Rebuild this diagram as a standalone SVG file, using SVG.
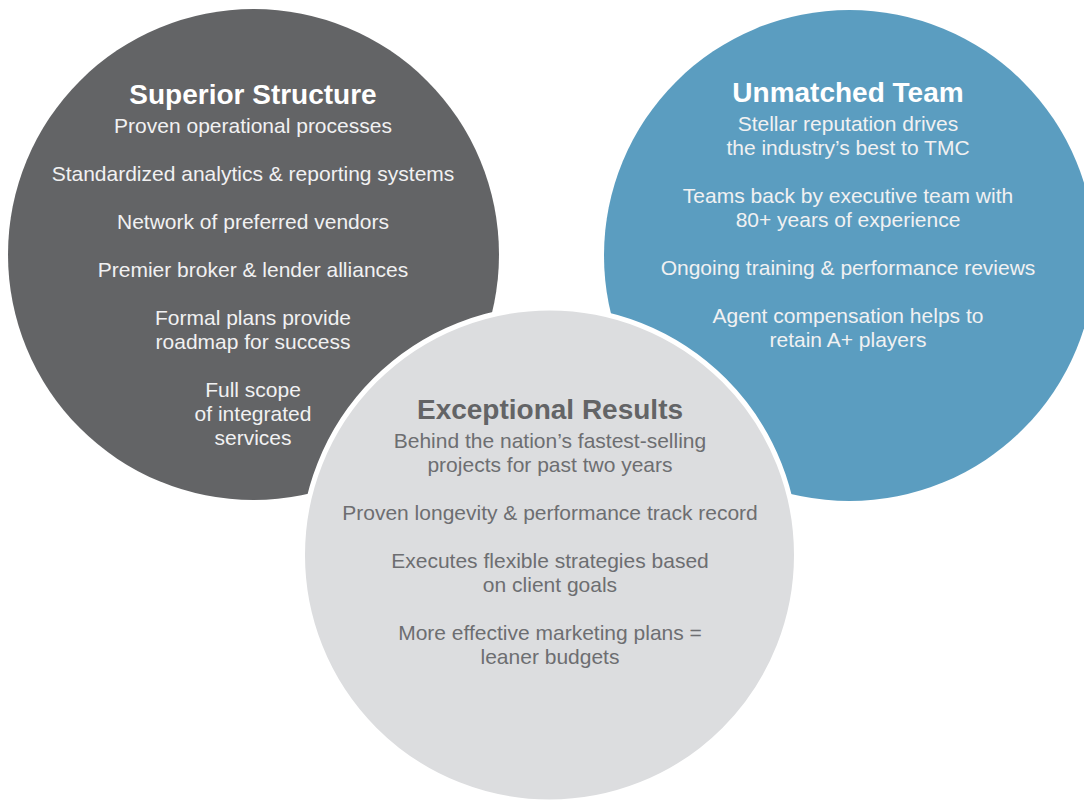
<svg xmlns="http://www.w3.org/2000/svg" width="1084" height="800" viewBox="0 0 1084 800">
  <style>
    .title { font-family: "Liberation Sans", Arial, sans-serif; font-weight: bold; font-size: 28px; text-anchor: middle; }
    .body { font-family: "Liberation Sans", Arial, sans-serif; font-size: 21px; text-anchor: middle; }
    .on-dark { fill: #ffffff; }
    .on-dark-body { fill: #f1f1f2; }
    .on-light-title { fill: #636466; }
    .on-light-body { fill: #6d6e71; }
  </style>
  <rect width="1084" height="800" fill="#ffffff"/>

  <!-- Superior Structure -->
  <g id="superior-structure">
    <circle cx="253.5" cy="254.5" r="245.5" fill="#636466"/>
    <text class="title on-dark" x="253" y="104">Superior Structure</text>
    <text class="body on-dark-body" x="253" y="133">Proven operational processes</text>
    <text class="body on-dark-body" x="253" y="181">Standardized analytics &amp; reporting systems</text>
    <text class="body on-dark-body" x="253" y="229">Network of preferred vendors</text>
    <text class="body on-dark-body" x="253" y="277">Premier broker &amp; lender alliances</text>
    <text class="body on-dark-body" x="253" y="325">Formal plans provide</text>
    <text class="body on-dark-body" x="253" y="349">roadmap for success</text>
    <text class="body on-dark-body" x="253" y="397">Full scope</text>
    <text class="body on-dark-body" x="253" y="421">of integrated</text>
    <text class="body on-dark-body" x="253" y="445">services</text>
  </g>

  <!-- Unmatched Team -->
  <g id="unmatched-team">
    <circle cx="849.5" cy="255.5" r="245.5" fill="#5b9dc0"/>
    <text class="title on-dark" x="848" y="102">Unmatched Team</text>
    <text class="body on-dark-body" x="848" y="131">Stellar reputation drives</text>
    <text class="body on-dark-body" x="848" y="155">the industry’s best to TMC</text>
    <text class="body on-dark-body" x="848" y="203">Teams back by executive team with</text>
    <text class="body on-dark-body" x="848" y="227">80+ years of experience</text>
    <text class="body on-dark-body" x="848" y="275">Ongoing training &amp; performance reviews</text>
    <text class="body on-dark-body" x="848" y="323">Agent compensation helps to</text>
    <text class="body on-dark-body" x="848" y="347">retain A+ players</text>
  </g>

  <!-- Exceptional Results -->
  <g id="exceptional-results">
    <circle cx="549.5" cy="555" r="247" fill="#dcdddf" stroke="#ffffff" stroke-width="5"/>
    <text class="title on-light-title" x="550" y="419">Exceptional Results</text>
    <text class="body on-light-body" x="550" y="448">Behind the nation’s fastest-selling</text>
    <text class="body on-light-body" x="550" y="472">projects for past two years</text>
    <text class="body on-light-body" x="550" y="520">Proven longevity &amp; performance track record</text>
    <text class="body on-light-body" x="550" y="568">Executes flexible strategies based</text>
    <text class="body on-light-body" x="550" y="592">on client goals</text>
    <text class="body on-light-body" x="550" y="640">More effective marketing plans =</text>
    <text class="body on-light-body" x="550" y="664">leaner budgets</text>
  </g>

  <g id="connectors"/>
</svg>
